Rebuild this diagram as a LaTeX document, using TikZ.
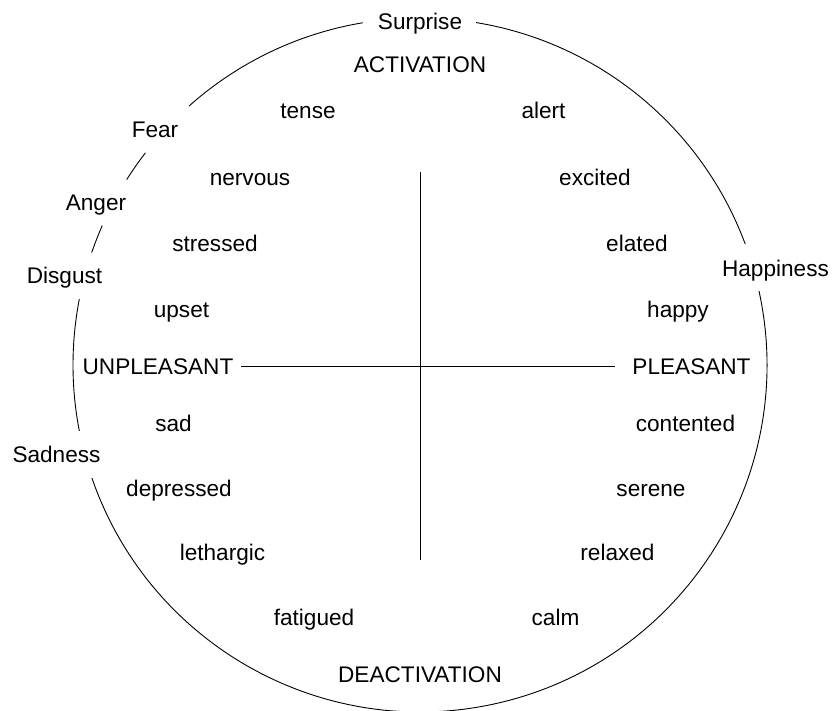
\documentclass[tikz,border=0pt]{standalone}
\usepackage{fontspec}
\setmainfont{Liberation Sans}
\begin{document}
\begin{tikzpicture}[x=1pt,y=1pt,
  lbl/.style={anchor=base, inner sep=0pt, font=\fontsize{22.6}{27}\selectfont},
  ring/.style={line width=0.9pt},
  axisline/.style={line width=0.9pt}]
\useasboundingbox (0,0) rectangle (833,711);
\coordinate (O) at (420,346);

% emotion labels on the ring
\node[lbl] (surprise)  at (420,681) {Surprise};
\node[lbl] (fear)      at (155,573) {Fear};
\node[lbl] (anger)     at (96,500)  {Anger};
\node[lbl] (disgust)   at (64.5,427) {Disgust};
\node[lbl] (sadness)   at (56.5,248) {Sadness};
\node[lbl] (happiness) at (775.5,434) {Happiness};

% axis labels
\node[lbl] (act)   at (420,638) {ACTIVATION};
\node[lbl] (deact) at (420,28)  {DEACTIVATION};
\node[lbl] (unpl)  at (158,336) {UNPLEASANT};
\node[lbl] (pl)    at (691.5,336) {PLEASANT};

% affect words
\node[lbl] (tense)     at (308,592)   {tense};
\node[lbl] (alert)     at (543.5,592) {alert};
\node[lbl] (nervous)   at (250,525)   {nervous};
\node[lbl] (excited)   at (595,525)   {excited};
\node[lbl] (stressed)  at (215,459)   {stressed};
\node[lbl] (elated)    at (637,459)   {elated};
\node[lbl] (upset)     at (181.5,393) {upset};
\node[lbl] (happy)     at (678,393)   {happy};
\node[lbl] (sad)       at (173.5,279) {sad};
\node[lbl] (contented) at (685.5,279) {contented};
\node[lbl] (depressed) at (179,214)   {depressed};
\node[lbl] (serene)    at (651,214)   {serene};
\node[lbl] (lethargic) at (222.5,150) {lethargic};
\node[lbl] (relaxed)   at (617.5,150) {relaxed};
\node[lbl] (fatigued)  at (314,85)    {fatigued};
\node[lbl] (calm)      at (555.5,85)  {calm};

% the ring, broken where the emotion labels sit
\draw[ring] (O) ++(80.7:347pt)  arc[start angle=80.7,  end angle=20.4,  radius=347pt];
\draw[ring] (O) ++(12.3:347pt)  arc[start angle=12.3,  end angle=-161,  radius=347pt];
\draw[ring] (O) ++(169.05:347pt) arc[start angle=169.05, end angle=190.95, radius=347pt];
\draw[ring] (O) ++(156.3:347pt) arc[start angle=156.3, end angle=161.1, radius=347pt];
\draw[ring] (O) ++(142.3:347pt) arc[start angle=142.3, end angle=147.7, radius=347pt];
\draw[ring] (O) ++(99.5:347pt)  arc[start angle=99.5,  end angle=131.7, radius=347pt];

% the axes
\coordinate (hL) at (241,345);
\coordinate (hR) at (615,345);
\coordinate (vT) at (420,539);
\coordinate (vB) at (420,151);
\draw[axisline] (hL) -- (hR);
\draw[axisline] (vT) -- (vB);
\end{tikzpicture}
\end{document}
